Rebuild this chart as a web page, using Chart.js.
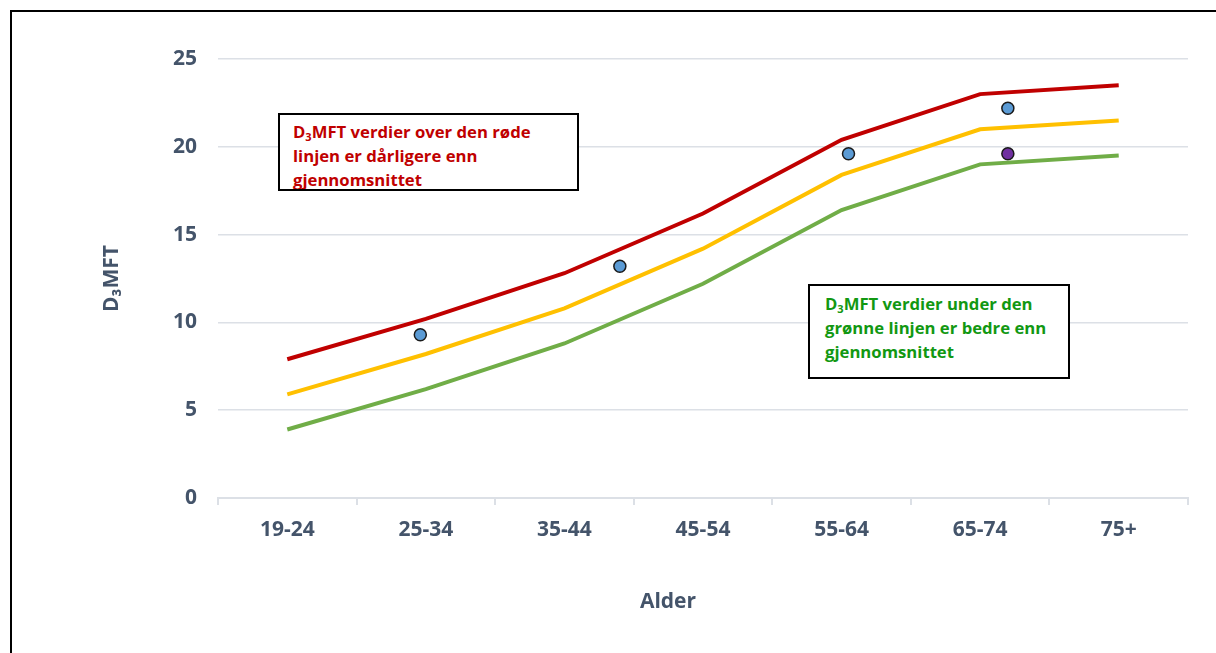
<!DOCTYPE html>
<html>
<head>
<meta charset="utf-8">
<script src="https://cdn.jsdelivr.net/npm/chart.js@4"></script>
<style>
  body { margin: 0; background: #fff; }
  #ramme { position: absolute; left: 10px; top: 10px; width: 1300px; height: 800px; border: 2px solid #000; }
  #graf { position: absolute; left: 0; top: 0; }
  .boks { position: absolute; border: 2px solid #000; background: #fff; box-sizing: border-box;
          font-family: "Open Sans", sans-serif; font-weight: bold; font-size: 16.7px; line-height: 24px;
          overflow: hidden; white-space: nowrap; }
  .boks sub { font-size: 11px; line-height: 0; vertical-align: -3px; }
  #rodboks { left: 278px; top: 113px; width: 301px; height: 78px; color: #c00000; padding: 5px 0 0 13px; }
  #gronnboks { left: 808px; top: 284px; width: 262px; height: 95px; color: #129812; padding: 6px 0 0 15px; }
  #xtittel { position: absolute; left: 568px; width: 200px; top: 586px; text-align: center;
             font-family: "Open Sans", sans-serif; font-weight: bold; font-size: 21px; color: #44546a; }
</style>
</head>
<body>
<div id="ramme"></div>
<canvas id="graf" width="1216" height="653"></canvas>
<div class="boks" id="rodboks">D<sub>3</sub>MFT verdier over den røde<br>linjen er dårligere enn<br>gjennomsnittet</div>
<div class="boks" id="gronnboks">D<sub>3</sub>MFT verdier under den<br>grønne linjen er bedre enn<br>gjennomsnittet</div>
<div id="xtittel">Alder</div>
<script>
// aldersgrupper
var alder = ['19-24', '25-34', '35-44', '45-54', '55-64', '65-74', '75+'];

// referanselinjer
var rod = [7.9, 10.2, 12.8, 16.2, 20.4, 23.0, 23.5];
var gul = [5.9, 8.2, 10.8, 14.2, 18.4, 21.0, 21.5];
var gronn = [3.9, 6.2, 8.8, 12.2, 16.4, 19.0, 19.5];

// enkeltpunkter (x = posisjon i aldersgruppe-indeks)
var blaaX = [0.96, 2.40, 4.05, 5.20];
var blaaY = [9.3, 13.2, 19.6, 22.2];
var lillaX = [5.20];
var lillaY = [19.6];

var yTicks = [0, 5, 10, 15, 20, 25];

function punkter(xs, ys) {
  return xs.map(function(x, i) {
    return { x: x, y: ys[i] };
  });
}

var tekstFarge = '#44546a';
var gridFarge = '#dce0e6';
var font = { family: '"Open Sans", sans-serif', size: 21, weight: 'bold' };

var data = {
  labels: alder,
  datasets: [
    { data: rod, borderColor: '#c00000', borderWidth: 4, pointRadius: 0, tension: 0, xAxisID: 'x' },
    { data: gul, borderColor: '#ffc000', borderWidth: 4, pointRadius: 0, tension: 0, xAxisID: 'x' },
    { data: gronn, borderColor: '#70ad47', borderWidth: 4, pointRadius: 0, tension: 0, xAxisID: 'x' },
    { type: 'scatter', data: punkter(blaaX, blaaY), xAxisID: 'x2', pointRadius: 6,
      backgroundColor: '#5b9bd5', borderColor: '#1a1a1a', borderWidth: 1.5 },
    { type: 'scatter', data: punkter(lillaX, lillaY), xAxisID: 'x2', pointRadius: 6,
      backgroundColor: '#7030a0', borderColor: '#1a1a1a', borderWidth: 1.5 }
  ]
};

var options = {
  responsive: false,
  animation: false,
  layout: { padding: { left: 92, right: 28, top: 59, bottom: 30 } },
  plugins: { legend: { display: false }, tooltip: { enabled: false } },
  scales: {
    x: {
      type: 'category',
      offset: true,
      grid: { display: true, drawOnChartArea: false, offset: true, tickLength: 7, color: gridFarge, lineWidth: 2 },
      border: { display: true, color: gridFarge, width: 2 },
      ticks: { color: tekstFarge, font: font, padding: 12, maxRotation: 0 },
      afterFit: function(s) { s.height = 125; }
    },
    x2: { type: 'linear', display: false, min: -0.5, max: 6.5 },
    y: {
      min: 0,
      max: 25,
      afterBuildTicks: function(s) { s.ticks = yTicks.map(function(v) { return { value: v }; }); },
      grid: { color: gridFarge, lineWidth: 1.5, drawTicks: false },
      border: { display: false },
      ticks: { color: tekstFarge, font: font, padding: 21 },
      title: { display: true, text: 'D₃MFT', color: tekstFarge, font: font, padding: { top: 7, bottom: 0 } },
      afterFit: function(s) { s.width = 126; }
    }
  }
};

var ctx = document.getElementById('graf').getContext('2d');
var minGraf = new Chart(ctx, {
  type: 'line',
  data: data,
  options: options
});
</script>
</body>
</html>
